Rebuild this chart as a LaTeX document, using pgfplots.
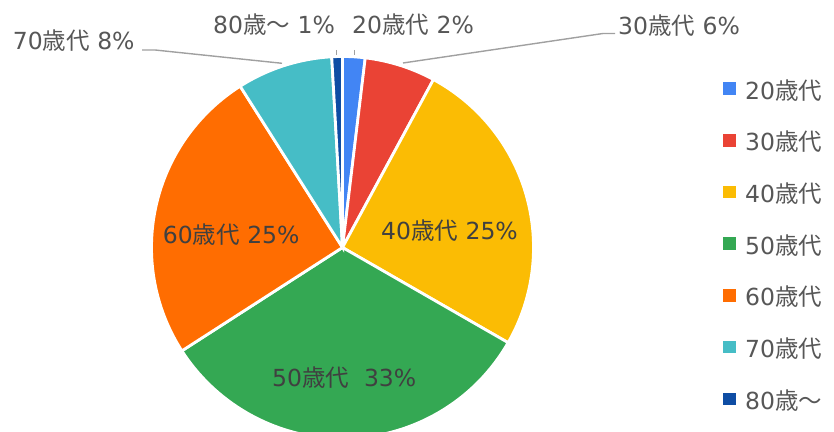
\documentclass[border=0pt]{standalone}
\usepackage{pgfplots}
\pgfplotsset{compat=1.18}
\usepackage{fontspec}
\setmainfont{DejaVu Sans}
\newfontfamily\cjk{Noto Sans CJK JP}
\newcommand{\J}[1]{{\cjk #1}}
\definecolor{c20}{HTML}{4285F4}
\definecolor{c30}{HTML}{EA4335}
\definecolor{c40}{HTML}{FBBC04}
\definecolor{c50}{HTML}{34A853}
\definecolor{c60}{HTML}{FF6D01}
\definecolor{c70}{HTML}{46BDC6}
\definecolor{c80}{HTML}{0E4DA4}
\definecolor{txtout}{HTML}{575757}
\definecolor{txtin}{HTML}{404040}
\definecolor{leader}{HTML}{A0A0A0}
% share of each age group (percent), clockwise from 12 o'clock
\def\cum{0}
\newcommand\pieslice[2]{%
  \edef\tmp{\noexpand\fill[#2, draw=white, line width=2.8bp]
    (axis cs:342.5,184.5) -- ++({90-3.6*\cum}:191bp)
    arc[start angle={90-3.6*\cum}, delta angle={-3.6*#1}, radius=191bp] -- cycle;}\tmp
  \pgfmathsetmacro\cum{\cum+#1}}
\tikzset{lbl/.style={font=\fontsize{23.5bp}{27bp}\selectfont, inner sep=0pt}}
\begin{document}
\begin{tikzpicture}
\useasboundingbox (0,0) rectangle (834bp,432bp);
\begin{axis}[at={(0,0)}, anchor=south west, scale only axis,
  width=834bp, height=432bp, xmin=0, xmax=834, ymin=0, ymax=432,
  hide axis, clip=false,
  legend style={at={(axis cs:723,350)}, anchor=north west, draw=none, fill=none,
    inner sep=0pt, row sep=29.7bp, column sep=10bp,
    font=\fontsize{23.5bp}{27bp}\selectfont, text=txtout,
    nodes={inner sep=0pt, text height=17bp, text depth=5bp}},
  legend cell align=left,
  legend image code/.code={\fill[#1] (0bp,-1bp) rectangle (11.6bp,10.6bp);},
]
\pieslice{1.9}{c20}
\pieslice{6.0}{c30}
\pieslice{25.4}{c40}
\pieslice{32.6}{c50}
\pieslice{25.1}{c60}
\pieslice{8.1}{c70}
\pieslice{0.9}{c80}

\addplot[forget plot, draw=leader, line width=1.4bp, mark=none] coordinates {(336.7,382) (336.7,377)};
\addplot[forget plot, draw=leader, line width=1.4bp, mark=none] coordinates {(354.3,382) (354.3,377)};
\addplot[forget plot, draw=leader, line width=1.4bp, mark=none] coordinates {(403,369) (603,398.5) (615,398.5)};
\addplot[forget plot, draw=leader, line width=1.4bp, mark=none] coordinates {(142,382) (155,382) (282,368.7)};

\node[lbl, text=txtout, anchor=base west] at (axis cs:213,398) {80\J{歳〜} 1\%};
\node[lbl, text=txtout, anchor=base west] at (axis cs:352,398) {20\J{歳代} 2\%};
\node[lbl, text=txtout, anchor=base west] at (axis cs:618,397.7) {30\J{歳代} 6\%};
\node[lbl, text=txtout, anchor=base west] at (axis cs:12.7,382) {70\J{歳代} 8\%};
\node[lbl, text=txtin, anchor=base west] at (axis cs:162.7,188.7) {60\J{歳代} 25\%};
\node[lbl, text=txtin, anchor=base east] at (axis cs:518,192) {40\J{歳代} 25\%};
\node[lbl, text=txtin, anchor=base west] at (axis cs:272,45) {50\J{歳代}\ \ 33\%};

\addlegendimage{c20}\addlegendentry{20\J{歳代}}
\addlegendimage{c30}\addlegendentry{30\J{歳代}}
\addlegendimage{c40}\addlegendentry{40\J{歳代}}
\addlegendimage{c50}\addlegendentry{50\J{歳代}}
\addlegendimage{c60}\addlegendentry{60\J{歳代}}
\addlegendimage{c70}\addlegendentry{70\J{歳代}}
\addlegendimage{c80}\addlegendentry{80\J{歳〜}}
\end{axis}
\end{tikzpicture}
\end{document}
